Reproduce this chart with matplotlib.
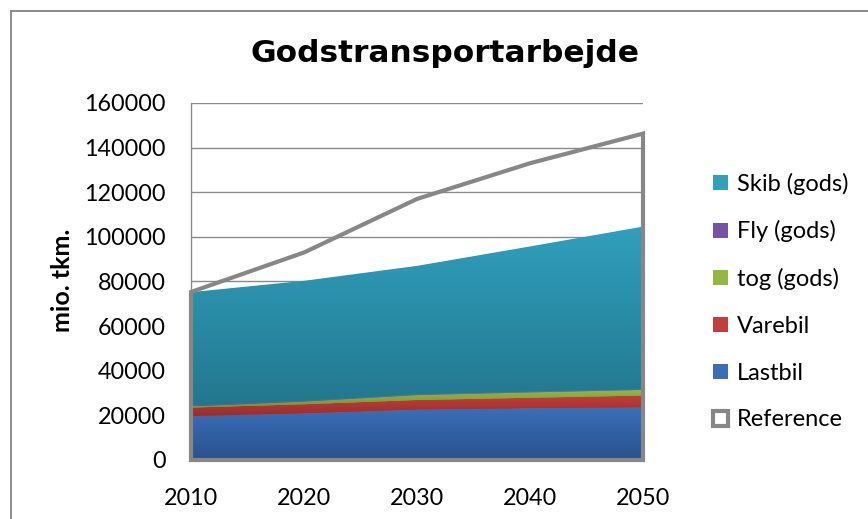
import numpy as np
import matplotlib
matplotlib.use("Agg")
import matplotlib.pyplot as plt
from matplotlib.colors import LinearSegmentedColormap
from matplotlib.patches import Patch
from matplotlib.lines import Line2D

years = [2010, 2020, 2030, 2040, 2050]
lastbil = [19700, 20900, 22600, 23200, 23600]
varebil = [3800, 4100, 4300, 4700, 5300]
tog = [500, 1200, 2200, 2400, 2500]
fly = [300, 300, 300, 300, 300]
skib = [50900, 53800, 57600, 65100, 72900]
reference = [75300, 93000, 117000, 133000, 146300]

series_names = ["Lastbil", "Varebil", "tog (gods)", "Fly (gods)", "Skib (gods)"]
series_values = [lastbil, varebil, tog, fly, skib]
series_colors = [("#3a6fb8", "#29528c"), ("#c23e3a", "#982e2c"),
                 ("#92b842", "#749438"), ("#7454a6", "#5a3f84"),
                 ("#30a0bd", "#22778e")]
ref_color = "#878787"

W, H = 868, 519
fig = plt.figure(figsize=(W / 100, H / 100), dpi=100)
plt.rcParams['font.family'] = ['Lato', 'DejaVu Sans']

ax = fig.add_axes([191 / W, 1 - 460 / H, (643 - 191) / W, (460 - 103) / H])
ax.set_xlim(2010, 2050)
ax.set_ylim(0, 160000)

x = np.array(years, dtype=float)
lower = np.zeros(len(years))
for name, vals, (ctop, cbot) in zip(series_names, series_values, series_colors):
    upper = lower + np.array(vals, dtype=float)
    poly = ax.fill_between(x, lower, upper, color=ctop, lw=0, zorder=2)
    cmap = LinearSegmentedColormap.from_list(name, [cbot, ctop])
    grad = np.linspace(0, 1, 256).reshape(-1, 1)
    im = ax.imshow(grad, extent=[2010, 2050, lower.min(), upper.max()],
                   origin="lower", aspect="auto", cmap=cmap, zorder=2.1)
    im.set_clip_path(poly.get_paths()[0], ax.transData)
    lower = upper

ax.fill_between(x, 0, reference, facecolor="none", edgecolor=ref_color,
                lw=3, zorder=5, clip_on=False, joinstyle="miter")

ax.set_xlim(2010, 2050)
ax.set_ylim(0, 160000)
ax.set_yticks(np.arange(0, 160001, 20000))
ax.set_xticks(years)
ax.yaxis.grid(True, color="#8a8a8a", lw=1.0)
ax.set_axisbelow(True)
for s in ["top", "right", "bottom"]:
    ax.spines[s].set_visible(False)
ax.spines["left"].set_color("#8a8a8a")
ax.spines["left"].set_linewidth(1.0)
ax.tick_params(axis="both", length=0, labelsize=16.8, colors="black")
ax.tick_params(axis="y", pad=18)
ax.tick_params(axis="x", pad=20)

fig.text(63 / W, 1 - 280 / H, "mio. tkm.", rotation=90, fontsize=18,
         fontweight="bold", ha="center", va="center")
fig.text(445 / W, 1 - 62 / H, "Godstransportarbejde", fontsize=22.5,
         fontweight="bold", ha="center", va="baseline",
         family=["DejaVu Sans"])

# outer chart border
fig.add_artist(Line2D([10.5 / W, 1], [1 - 10.5 / H, 1 - 10.5 / H],
                      color="#8c8c8c", lw=1.4, transform=fig.transFigure))
fig.add_artist(Line2D([10.5 / W, 10.5 / W], [0, 1 - 10.5 / H],
                      color="#8c8c8c", lw=1.4, transform=fig.transFigure))

handles = []
labels = []
for name, (ctop, cbot) in reversed(list(zip(series_names, series_colors))):
    handles.append(Patch(facecolor=ctop, edgecolor="none"))
    labels.append(name)
handles.append(Patch(facecolor="white", edgecolor=ref_color, lw=3))
labels.append("Reference")
fig.legend(handles, labels, loc="upper left", bbox_to_anchor=(704 / W, 1 - 163 / H),
           frameon=False, fontsize=17, handlelength=0.6, handleheight=0.6,
           handletextpad=0.4, labelspacing=1.09, borderaxespad=0)

fig.savefig("out.png", dpi=100)
